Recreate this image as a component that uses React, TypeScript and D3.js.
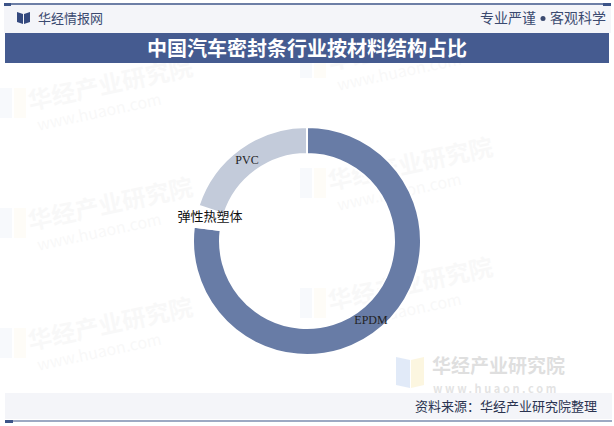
import React from "react";
import * as d3 from "d3";

const categories = ["EPDM", "弹性热塑体", "PVC"];
const values = [77, 3, 20];
const colors = ["#687ca6", "#ffffff", "#c3cbda"];

const W = 614;
const H = 426;
const cx = 307;
const cy = 241;
const outerR = 114;
const innerR = 87;

const watermarks = [
  [30, 110], [330, 190], [30, 230], [330, 310], [30, 350], [330, 70],
];

export default function App() {
  const pie = d3.pie<number>().sort(null).value((d) => d)(values);
  const arc = d3.arc<d3.PieArcDatum<number>>().innerRadius(innerR).outerRadius(outerR);

  return (
    <svg width={W} height={H} style={{ position: "absolute", left: 0, top: 0, background: "#fff" }}
      fontFamily="'Noto Sans CJK SC', 'Noto Sans', sans-serif">
      <rect x={0} y={0} width={W} height={H} fill="#ffffff" />
      {/* watermarks */}
      {watermarks.map(([x, y], i) => (
        <g key={i} opacity={0.035}>
          <rect x={x - 30} y={y - 22} width={12} height={30} fill="#4a78c8" />
          <rect x={x - 16} y={y - 22} width={12} height={30} fill="#e8c040" />
          <text x={x} y={y} fontSize={24} fontWeight="bold" fill="#555" transform={`rotate(-12 ${x} ${y})`}>华经产业研究院</text>
          <text x={x + 4} y={y + 22} fontSize={16} fill="#555" transform={`rotate(-12 ${x} ${y})`}>www.huaon.com</text>
        </g>
      ))}
      {/* bottom-right watermark */}
      <g opacity={0.2}>
        <path d="M396,357 L410,360 L410,388 L396,385 Z" fill="#6f9be0" />
        <path d="M411,360 L424,357 L424,385 L411,388 Z" fill="#f2d56a" />
        <text x={432} y={373} fontSize={19} fontWeight="bold" fill="#666">华经产业研究院</text>
        <text x={433} y={393} fontSize={11} fontWeight="bold" fill="#777" letterSpacing={2.6}>www.huaon.com</text>
      </g>

      {/* header */}
      <rect x={4} y={5} width={607} height={28} fill="#f4f5f9" />
      <line x1={4} x2={611} y1={4} y2={4} stroke="#3c5488" strokeWidth={1.5} />
      <rect x={4} y={3} width={7} height={3} fill="#3c5488" />
      <rect x={603} y={3} width={8} height={3} fill="#3c5488" />
      <path d="M17,12 L23,14 L23,24 L17,22 Z" fill="#34497e" />
      <path d="M24,14 L30,12 L30,22 L24,24 Z" fill="#34497e" />
      <text x={38} y={23} fontSize={13} fill="#3b4a70">华经情报网</text>
      <text x={536} y={23} fontSize={14} fill="#3b4a70" textAnchor="end">专业严谨</text>
      <circle cx={543} cy={18.5} r={2.5} fill="#3b4a70" />
      <text x={606} y={23} fontSize={14} fill="#3b4a70" textAnchor="end">客观科学</text>

      {/* title bar */}
      <rect x={5} y={33} width={604} height={30} fill="#455b90" />
      <text x={307} y={55.5} fontSize={20} fontWeight="bold" fill="#ffffff" textAnchor="middle">
        中国汽车密封条行业按材料结构占比
      </text>

      {/* donut */}
      <g transform={`translate(${cx},${cy})`}>
        {pie.map((d, i) => (
          <path key={categories[i]} d={arc(d) || ""} fill={colors[i]} stroke="#ffffff" strokeWidth={2} />
        ))}
      </g>
      <text x={247} y={164} fontSize={12} fill="#222" textAnchor="middle" fontFamily="'Liberation Serif', 'DejaVu Serif', serif">{categories[2]}</text>
      <text x={371} y={324} fontSize={12} fill="#222" textAnchor="middle" fontFamily="'Liberation Serif', 'DejaVu Serif', serif">{categories[0]}</text>
      <text x={210} y={221} fontSize={13} fill="#111" textAnchor="middle">{categories[1]}</text>

      {/* footer */}
      <rect x={5} y={393} width={607} height={26} fill="#f4f5f9" />
      <line x1={5} x2={612} y1={421} y2={421} stroke="#3c5488" strokeWidth={1.2} />
      <rect x={5} y={420} width={8} height={3} fill="#3c5488" />
      <text x={597} y={411} fontSize={13} fill="#2a3350" textAnchor="end">资料来源：华经产业研究院整理</text>
    </svg>
  );
}
